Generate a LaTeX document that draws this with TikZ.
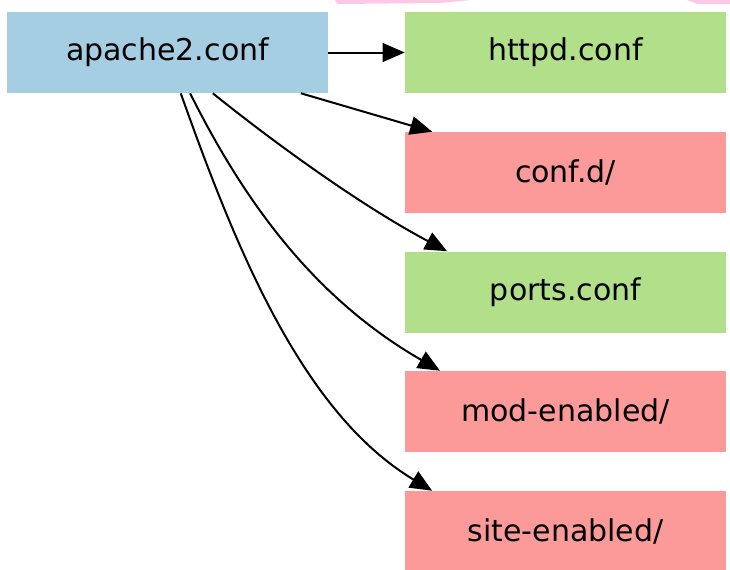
\documentclass[tikz,border=0pt]{standalone}
\usepackage{fontspec}
\setmainfont{DejaVu Sans}
\usepackage{tikz}
\definecolor{confblue}{HTML}{A6CEE3}
\definecolor{confgreen}{HTML}{B2DF8A}
\definecolor{confred}{HTML}{FB9A99}
\definecolor{confpink}{HTML}{FCC8E4}
\usetikzlibrary{positioning, arrows.meta, shapes}
\tikzstyle{arrow} = [line width=1.5pt,-{Triangle[length=16.5pt,width=14pt]}]

\begin{document}
\begin{tikzpicture}[x=0.75pt, y=-0.75pt]
        \tikzstyle{every node}=[font=\fontsize{22.5}{27}\selectfont]
        \tikzstyle{conffile} = [rectangle, draw=none, inner sep=0pt, minimum width=240.75pt, minimum height=60.75pt]
        \tikzstyle{main} = [conffile, fill=confblue]
        \tikzstyle{file} = [conffile, fill=confgreen]
        \tikzstyle{folder} = [conffile, fill=confred]

        \useasboundingbox (0,0) rectangle (730,569);

        % cut off shape at the top
        \fill[confpink] (335,0) -- (337,4) -- (440,3) -- (470,0) -- cycle;
        \fill[confpink] (687,0) -- (698,4) -- (730,4) -- (730,0) -- cycle;

        \node[main](apache) at (167.5,52.5) {apache2.conf};

        \node[file](httpd) at (565.5,52.5) {httpd.conf};
        \node[folder](confd) at (565.5,172.5) {conf.d/};
        \node[file](ports) at (565.5,292) {ports.conf};
        \node[folder](mods) at (565.5,411.5) {mod-enabled/};
        \node[folder](sites) at (565.5,531.5) {site-enabled/};

        % includes
        \draw[arrow] (apache) -- (httpd);
        \draw[arrow] (apache.-17) -- (confd.163);
        \draw[arrow] (apache.-42.3) .. controls +(62,50) and +(-85,-45) .. (ports.161.3);
        \draw[arrow] (apache.-61) .. controls +(55,110) and +(-125,-72) .. (mods.162.5);
        \draw[arrow] (apache.-72.8) .. controls +(55,155) and +(-130,-78) .. (sites.163.1);

\end{tikzpicture}
\end{document}
